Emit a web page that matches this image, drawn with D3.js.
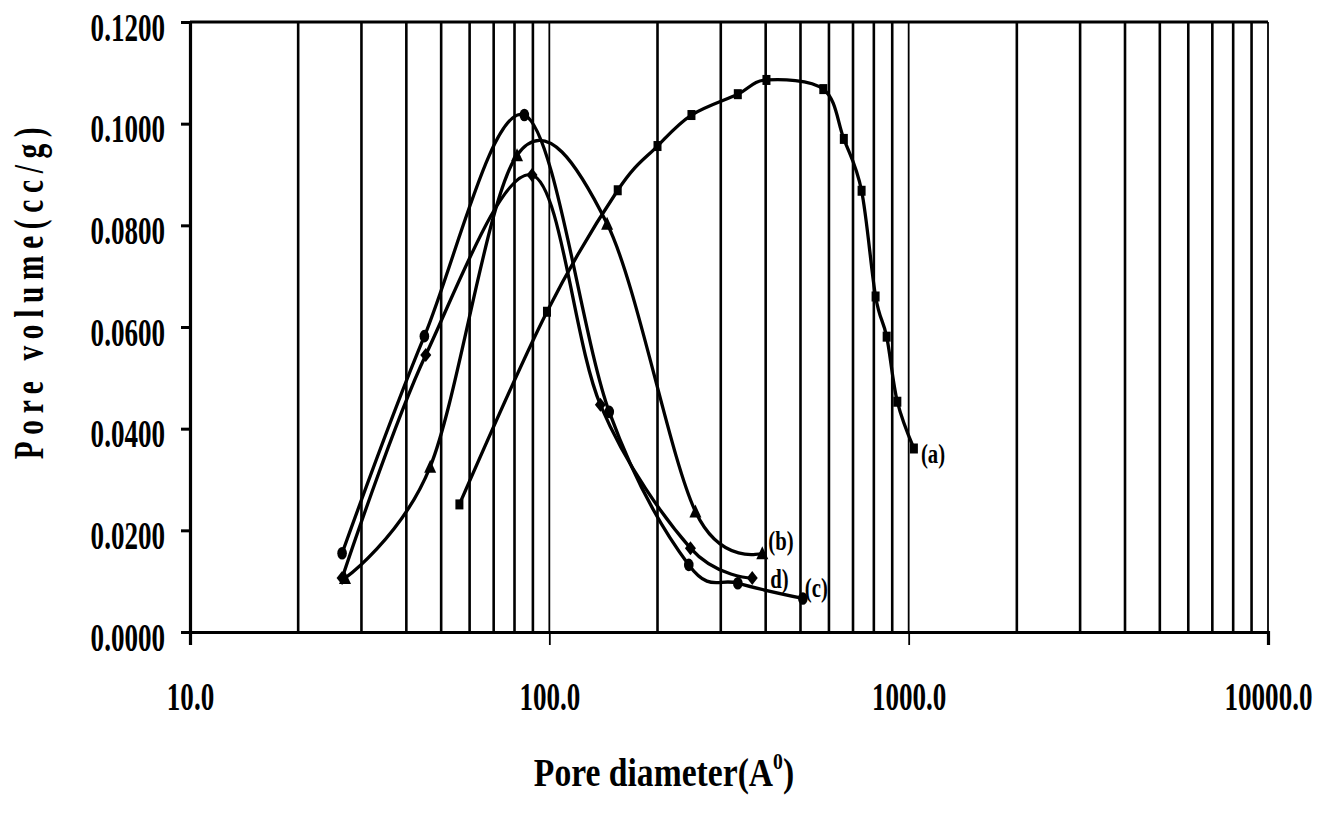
<!DOCTYPE html>
<html>
<head>
<meta charset="utf-8">
<script src="https://cdnjs.cloudflare.com/ajax/libs/d3/7.8.5/d3.min.js"></script>
<style>
  body { margin: 0; background: #fff; }
  text { font-family: "Liberation Serif", "Times New Roman", serif; font-weight: bold; fill: #000; }
</style>
</head>
<body>
<div class="box"></div>
<script>
// pore diameter (A) and pore volume (cc/g) for each sample
const diamA = [56.2, 98.5, 155, 200, 248.6, 334.6, 402, 578.7, 660, 739.6, 809, 868.5, 930, 1034];
const volA  = [0.0251, 0.0630, 0.0869, 0.0956, 0.1017, 0.1058, 0.1086, 0.1068, 0.0970, 0.0868, 0.0660, 0.0581, 0.0453, 0.0361];

const diamB = [27.0, 46.6, 81.3, 144.8, 255, 391.4];
const volB  = [0.0106, 0.0325, 0.0938, 0.0803, 0.0237, 0.0155];

const diamC = [26.5, 44.9, 85.2, 146.8, 244.4, 334.6, 507.6];
const volC  = [0.0155, 0.0582, 0.1017, 0.0433, 0.0132, 0.0096, 0.0066];

const diamD = [26.5, 45.3, 89.5, 138.7, 247, 367];
const volD  = [0.0106, 0.0545, 0.0899, 0.0447, 0.0165, 0.0106];

const seriesNames = ['(a)', '(b)', '(c)', 'd)'];
const xTicks = [10, 100, 1000, 10000];
const yTicks = [0, 0.02, 0.04, 0.06, 0.08, 0.10, 0.12];

const svg = d3.select('.box')
              .append('svg')
              .attr('width', 1326)
              .attr('height', 825)
              .style('background', '#fff');

const margin = {top: 22, right: 58, bottom: 193, left: 190};
const graphWidth = 1326 - margin.left - margin.right;
const graphHeight = 825 - margin.top - margin.bottom;

const graph = svg.append('g')
                 .attr('transform', `translate(${margin.left}, ${margin.top})`);

const x = d3.scaleLog()
            .domain([10, 10000])
            .range([0, graphWidth]);

const y = d3.scaleLinear()
            .domain([0, 0.12])
            .range([graphHeight, 0]);

// vertical grid lines (2..9 in each decade, plus decades)
const minorGrid = [];
[10, 100, 1000].forEach(d => { for (let k = 2; k <= 9; k++) minorGrid.push(d * k); });

graph.append('g')
     .selectAll('line')
     .data(minorGrid)
     .enter()
     .append('line')
     .attr('x1', d => x(d)).attr('x2', d => x(d))
     .attr('y1', 0).attr('y2', graphHeight)
     .attr('stroke', '#000')
     .attr('stroke-width', 2.6);

graph.append('g')
     .selectAll('line')
     .data(xTicks.slice(1))
     .enter()
     .append('line')
     .attr('x1', d => x(d)).attr('x2', d => x(d))
     .attr('y1', 0).attr('y2', graphHeight)
     .attr('stroke', '#000')
     .attr('stroke-width', 1.8);

// top border
graph.append('line')
     .attr('x1', 0).attr('x2', graphWidth)
     .attr('y1', 0).attr('y2', 0)
     .attr('stroke', '#000')
     .attr('stroke-width', 3);

// axes
const axeX = d3.axisBottom(x)
               .tickValues(xTicks)
               .tickSize(13)
               .tickFormat(d3.format('.1f'));
const axeY = d3.axisLeft(y)
               .tickValues(yTicks)
               .tickSize(9)
               .tickFormat(d3.format('.4f'));

const groupeX = graph.append('g')
                     .attr('transform', `translate(0, ${graphHeight})`)
                     .call(axeX);
const groupeY = graph.append('g').call(axeY);

groupeX.select('.domain').attr('stroke-width', 3.2);
groupeY.select('.domain').attr('stroke-width', 3.2);
groupeX.selectAll('.tick line').attr('stroke-width', 1.8);
groupeY.selectAll('.tick line').attr('stroke-width', 3);

groupeX.selectAll('text')
       .attr('y', null).attr('dy', null)
       .attr('font-size', 41)
       .attr('text-anchor', 'middle')
       .attr('transform', 'translate(0, 78) scale(0.66, 1)');

groupeY.selectAll('text')
       .attr('x', null).attr('dy', null)
       .attr('font-size', 41)
       .attr('text-anchor', 'end')
       .attr('transform', 'translate(-25, 18) scale(0.66, 1)');

// curves
const allSeries = [
  {name: seriesNames[0], diam: diamA, vol: volA, shape: 'square'},
  {name: seriesNames[1], diam: diamB, vol: volB, shape: 'triangle'},
  {name: seriesNames[2], diam: diamC, vol: volC, shape: 'circle'},
  {name: seriesNames[3], diam: diamD, vol: volD, shape: 'diamond'}
];

const valueLine = d3.line()
                    .x(d => x(d[0]))
                    .y(d => y(d[1]))
                    .curve(d3.curveCardinal.tension(0));

allSeries.forEach(s => {
  const pts = s.diam.map((d, i) => [d, s.vol[i]]);
  graph.append('path')
       .attr('d', valueLine(pts))
       .attr('fill', 'none')
       .attr('stroke', '#000')
       .attr('stroke-width', 3.3);

  const marks = graph.append('g').selectAll('.m').data(pts).enter();
  if (s.shape === 'square') {
    marks.append('rect')
         .attr('x', d => x(d[0]) - 4).attr('y', d => y(d[1]) - 5)
         .attr('width', 8).attr('height', 10);
  } else if (s.shape === 'circle') {
    marks.append('ellipse')
         .attr('cx', d => x(d[0])).attr('cy', d => y(d[1]))
         .attr('rx', 4.8).attr('ry', 6.3);
  } else if (s.shape === 'triangle') {
    marks.append('path')
         .attr('d', d => { const px = x(d[0]), py = y(d[1]);
           return `M${px},${py - 7}L${px + 6},${py + 6}L${px - 6},${py + 6}Z`; });
  } else {
    marks.append('path')
         .attr('d', d => { const px = x(d[0]), py = y(d[1]);
           return `M${px},${py - 7}L${px + 5.5},${py}L${px},${py + 7}L${px - 5.5},${py}Z`; });
  }
});

// series labels, next to the last point of each curve
const labelOffset = {'(a)': [7, 15], '(b)': [6, -3], '(c)': [2, -1], 'd)': [18, 10]};
allSeries.forEach(s => {
  const n = s.diam.length - 1;
  const off = labelOffset[s.name];
  graph.append('text')
       .attr('font-size', 28)
       .attr('transform', `translate(${x(s.diam[n]) + off[0]}, ${y(s.vol[n]) + off[1]}) scale(0.74, 1)`)
       .text(s.name);
});

// axis titles
const xTitle = svg.append('text')
                  .attr('font-size', 41)
                  .attr('text-anchor', 'middle')
                  .attr('transform', 'translate(664, 786) scale(0.82, 1)');
xTitle.append('tspan').text('Pore diameter(A');
xTitle.append('tspan').attr('font-size', 24).attr('dy', -17).text('0');
xTitle.append('tspan').attr('dy', 17).text(')');

svg.append('text')
   .attr('font-size', 42)
   .attr('text-anchor', 'middle')
   .attr('letter-spacing', 9.5)
   .attr('transform', 'translate(43, 290) rotate(-90) scale(0.7, 1)')
   .text('Pore volume(cc/g)');
</script>
</body>
</html>
